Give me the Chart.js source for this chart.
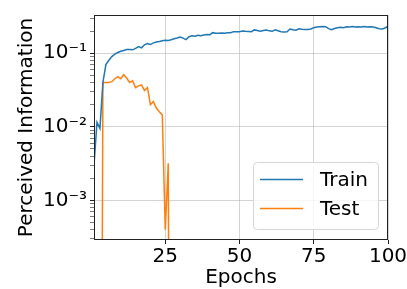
<!DOCTYPE html>
<html>
<head>
<meta charset="utf-8">
<style>
  body { margin: 0; background: #fff; }
  canvas { display: block; }
</style>
</head>
<body>
<canvas id="myChart" width="407" height="289"></canvas>
<script src="https://cdnjs.cloudflare.com/ajax/libs/Chart.js/4.4.1/chart.umd.min.js"></script>
<script>

	// values (0 = not positive, falls below the log axis)
	var epochs = [];
	for (var e = 1; e <= 100; e++) epochs.push(e);

	var trainInfo = [
	    0.003, 0.0115, 0.0095, 0.04, 0.07, 0.08, 0.09, 0.097, 0.102, 0.106,
	    0.109, 0.112, 0.112, 0.111, 0.116, 0.123, 0.118, 0.13, 0.135, 0.131,
	    0.138, 0.142, 0.144, 0.147, 0.15, 0.149, 0.152, 0.157, 0.161, 0.166,
	    0.16, 0.153, 0.167, 0.172, 0.17, 0.175, 0.173, 0.177, 0.179, 0.178,
	    0.19, 0.187, 0.186, 0.188, 0.186, 0.19, 0.189, 0.196, 0.195, 0.196,
	    0.2, 0.198, 0.197, 0.196, 0.207, 0.203, 0.199, 0.203, 0.207, 0.201,
	    0.198, 0.208, 0.202, 0.196, 0.194, 0.195, 0.213, 0.208, 0.205, 0.214,
	    0.211, 0.21, 0.209, 0.213, 0.222, 0.226, 0.228, 0.23, 0.229, 0.215,
	    0.208, 0.216, 0.221, 0.225, 0.222, 0.229, 0.226, 0.23, 0.226, 0.228,
	    0.226, 0.231, 0.227, 0.229, 0.226, 0.222, 0.215, 0.213, 0.22, 0.232
	];

	var testInfo = [
	    0, 0, 0, 0.04, 0.04, 0.04, 0.041, 0.045, 0.048, 0.045,
	    0.051, 0.046, 0.04, 0.042, 0.034, 0.036, 0.037, 0.031, 0.034, 0.02,
	    0.022, 0.018, 0.016, 0.0145, 0.0004, 0.0032, 0, 0, 0, 0,
	    0, 0, 0, 0, 0, 0, 0, 0, 0, 0,
	    0, 0, 0, 0, 0, 0, 0, 0, 0, 0,
	    0, 0, 0, 0, 0, 0, 0, 0, 0, 0,
	    0, 0, 0, 0, 0, 0, 0, 0, 0, 0,
	    0, 0, 0, 0, 0, 0, 0, 0, 0, 0,
	    0, 0, 0, 0, 0, 0, 0, 0, 0, 0,
	    0, 0, 0, 0, 0, 0, 0, 0, 0, 0
	];

	var xTicks = [25, 50, 75, 100];
	var yMin = 0.00029, yMax = 0.33;

	var FONT = "'DejaVu Sans', sans-serif";
	var FS = 20;
	var sup = { '-': '\u207B', '0': '\u2070', '1': '\u00B9', '2': '\u00B2', '3': '\u00B3', '4': '\u2074' };

	function isDecade(v) {
	    var l = Math.log10(v);
	    return Math.abs(l - Math.round(l)) < 1e-9;
	}

	// like matplotlib: non positive values are clipped far below the axis
	function points(vals) {
	    return epochs.map(function (x, i) {
	        return { x: x, y: vals[i] > 0 ? vals[i] : 1e-12 };
	    });
	}

	// frame round the plot and the legend inside it
	var framePlugin = {
	    id: 'frame',
	    afterDatasetsDraw: function (chart) {
	        var c = chart.ctx, a = chart.chartArea;
	        c.save();
	        c.strokeStyle = '#222';
	        c.lineWidth = 1;
	        c.strokeRect(a.left + 0.5, a.top + 0.5, a.right - a.left - 1, a.bottom - a.top - 1);

	        // legend box
	        var w = 125, h = 67;
	        var x0 = a.right - 10 - w, y0 = a.bottom - 11 - h;
	        c.fillStyle = 'rgba(255,255,255,0.8)';
	        c.strokeStyle = '#d6d6d6';
	        c.beginPath();
	        c.roundRect(x0 + 0.5, y0 + 0.5, w, h, 4);
	        c.fill();
	        c.stroke();
	        c.font = FS + 'px ' + FONT;
	        c.textBaseline = 'middle';
	        chart.data.datasets.forEach(function (ds, i) {
	            var yy = y0 + 17.5 + i * 29;
	            c.strokeStyle = ds.borderColor;
	            c.lineWidth = 1.5;
	            c.beginPath();
	            c.moveTo(x0 + 7, yy);
	            c.lineTo(x0 + 50, yy);
	            c.stroke();
	            c.fillStyle = '#000';
	            c.fillText(ds.label, x0 + 67, yy + 1);
	        });
	        c.restore();
	    }
	};

	var ctx = document.getElementById('myChart').getContext('2d');
	var chart = new Chart(ctx, {
	    type: 'line',
	    data: {
	        datasets: [{
	            label: 'Train',
	            borderColor: '#1f77b4',
	            data: points(trainInfo)
	        }, {
	            label: 'Test',
	            borderColor: '#ff7f0e',
	            data: points(testInfo)
	        }]
	    },
	    plugins: [framePlugin],
	    options: {
	        responsive: false,
	        animation: false,
	        layout: { padding: { top: 6, right: 19, left: 0, bottom: 0 } },
	        elements: {
	            line: { borderWidth: 1.5, tension: 0 },
	            point: { radius: 0 }
	        },
	        plugins: {
	            legend: { display: false },
	            tooltip: { enabled: false }
	        },
	        scales: {
	            x: {
	                type: 'linear',
	                min: 1,
	                max: 100,
	                afterBuildTicks: function (scale) {
	                    scale.ticks = xTicks.map(function (v) { return { value: v }; });
	                },
	                afterFit: function (scale) {
	                    scale.height = 49;
	                    scale.paddingRight = 0;
	                },
	                border: { display: false },
	                grid: {
	                    color: 'rgba(176,176,176,0.55)',
	                    tickColor: '#222',
	                    tickLength: 4
	                },
	                ticks: {
	                    color: '#000',
	                    padding: 1,
	                    maxRotation: 0,
	                    font: { family: FONT, size: FS }
	                },
	                title: {
	                    display: true,
	                    text: 'Epochs',
	                    color: '#000',
	                    padding: 0,
	                    font: { family: FONT, size: FS, lineHeight: 1.1 }
	                }
	            },
	            y: {
	                type: 'logarithmic',
	                min: yMin,
	                max: yMax,
	                afterBuildTicks: function (scale) {
	                    var t = [];
	                    for (var p = -4; p <= 0; p++) {
	                        for (var m = 1; m <= 9; m++) {
	                            var v = m * Math.pow(10, p);
	                            if (v >= yMin && v <= yMax) t.push({ value: v, major: m === 1 });
	                        }
	                    }
	                    scale.ticks = t;
	                },
	                afterFit: function (scale) { scale.width = 94; },
	                border: { display: false },
	                grid: {
	                    color: function (c) {
	                        return c.tick && isDecade(c.tick.value) ? 'rgba(176,176,176,0.55)' : 'rgba(0,0,0,0)';
	                    },
	                    tickColor: '#222',
	                    tickWidth: function (c) {
	                        return c.tick && isDecade(c.tick.value) ? 1 : 0.6;
	                    },
	                    tickLength: 4
	                },
	                ticks: {
	                    autoSkip: false,
	                    color: '#000',
	                    padding: 3,
	                    font: { family: FONT, size: FS },
	                    callback: function (v) {
	                        if (!isDecade(v)) return '';
	                        var s = String(Math.round(Math.log10(v)));
	                        return '10' + s.split('').map(function (ch) { return sup[ch]; }).join('');
	                    }
	                },
	                title: {
	                    display: true,
	                    text: 'Perceived Information',
	                    color: '#000',
	                    padding: { top: 15, bottom: 0 },
	                    font: { family: FONT, size: FS }
	                }
	            }
	        }
	    }
	});

</script>
</body>
</html>
